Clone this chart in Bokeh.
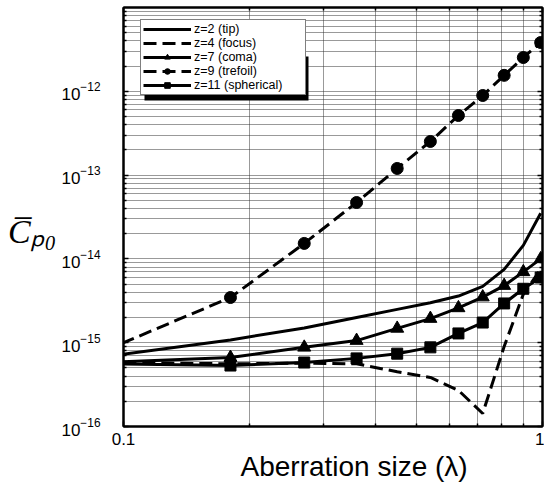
from bokeh.plotting import figure
from bokeh.models import (FixedTicker, LogAxis, Legend, LegendItem, Title,
                          CustomJSTickFormatter, BoxAnnotation, LogTickFormatter)
from bokeh.embed import file_html
from bokeh.resources import INLINE

# ---------------- data ----------------
aberration = [0.09, 0.18, 0.27, 0.36, 0.45, 0.54, 0.63, 0.72, 0.81, 0.90, 0.99]
tip       = [6.8e-16, 1.08e-15, 1.5e-15, 2.0e-15, 2.5e-15, 3.0e-15, 3.6e-15, 4.7e-15, 7.5e-15, 1.45e-14, 3.5e-14]
focus     = [5.8e-16, 5.6e-16, 5.7e-16, 5.6e-16, 4.5e-16, 3.85e-16, 2.7e-16, 1.43e-16, 9.0e-16, 3.8e-15, 7.5e-15]
coma      = [5.8e-16, 6.65e-16, 8.8e-16, 1.06e-15, 1.48e-15, 1.94e-15, 2.6e-15, 3.5e-15, 4.8e-15, 7.0e-15, 1.0e-14]
trefoil   = [8.0e-16, 3.46e-15, 1.53e-14, 4.71e-14, 1.20e-13, 2.52e-13, 5.14e-13, 8.91e-13, 1.55e-12, 2.53e-12, 3.82e-12]
spherical = [5.6e-16, 5.34e-16, 5.8e-16, 6.5e-16, 7.4e-16, 8.8e-16, 1.29e-15, 1.74e-15, 2.94e-15, 4.4e-15, 6.0e-15]

labels = ["z=2 (tip)", "z=4 (focus)", "z=7 (coma)", "z=9 (trefoil)", "z=11 (spherical)"]

x_major = [0.1, 1.0]
x_minor = [0.2, 0.3, 0.4, 0.5, 0.6, 0.7, 0.8, 0.9]
y_major = [1e-16, 1e-15, 1e-14, 1e-13, 1e-12]
y_minor = [m * d for d in [1e-16, 1e-15, 1e-14, 1e-13, 1e-12] for m in range(2, 10)]

# ---------------- figure ----------------
p = figure(width=544, height=484, x_axis_type="log", y_axis_type="log",
           x_range=(0.1, 1.0), y_range=(1e-16, 1e-11),
           output_backend="svg", toolbar_location=None,
           min_border_left=123, min_border_right=2, min_border_top=7, min_border_bottom=58)
p.background_fill_color = "white"
p.border_fill_color = "white"
p.outline_line_color = "black"
p.outline_line_width = 2

xt = FixedTicker(ticks=x_major, minor_ticks=x_minor)
yt = FixedTicker(ticks=y_major, minor_ticks=y_minor)
p.xaxis.ticker = xt
p.yaxis.ticker = yt
p.xgrid.ticker = xt
p.ygrid.ticker = yt

for g in (p.xgrid, p.ygrid):
    g.grid_line_color = "#333333"
    g.grid_line_dash = "1 1"
    g.grid_line_width = 1
    g.minor_grid_line_color = "#333333"
    g.minor_grid_line_dash = "1 1"
    g.minor_grid_line_width = 1

def style_axis(ax):
    ax.axis_line_color = "black"
    ax.axis_line_width = 2
    ax.major_tick_in = 5
    ax.major_tick_out = 0
    ax.minor_tick_in = 3
    ax.minor_tick_out = 0
    ax.major_tick_line_width = 1.5
    ax.minor_tick_line_width = 1.5
    ax.major_tick_line_color = "black"
    ax.minor_tick_line_color = "black"

style_axis(p.xaxis[0])
style_axis(p.yaxis[0])

p.xaxis.formatter = CustomJSTickFormatter(code="return tick >= 1 ? '1' : '0.1';")
p.xaxis.major_label_text_font = "Liberation Sans"
p.xaxis.major_label_text_font_size = "17px"
p.xaxis.major_label_text_color = "black"
p.xaxis.major_label_standoff = 6

# x axis title (sits right of centre, as in the reference)
p.add_layout(Title(text="Aberration size (\u03bb)", align="left", offset=117,
                   text_font="Liberation Sans", text_font_size="28px",
                   text_font_style="normal", text_color="black", standoff=2), "below")

p.yaxis.formatter = LogTickFormatter()
p.yaxis.major_label_text_font = "Liberation Sans"
p.yaxis.major_label_text_font_size = "17px"
p.yaxis.major_label_text_color = "black"
p.yaxis.major_label_standoff = 23
p.yaxis.axis_label = "\nC\u0305\u209a\u2080"
p.yaxis.axis_label_orientation = "horizontal"
p.yaxis.axis_label_text_font = "Liberation Serif"
p.yaxis.axis_label_text_font_style = "italic"
p.yaxis.axis_label_text_font_size = "34px"
p.yaxis.axis_label_text_line_height = 0.8
p.yaxis.axis_label_text_color = "black"
p.yaxis.axis_label_standoff = 2

# mirrored ticks on right / top
for loc in ("right", "above"):
    ax = LogAxis(ticker=(yt if loc == "right" else xt))
    ax.major_label_text_font_size = "2px"
    ax.major_label_text_alpha = 0
    ax.major_label_standoff = 0
    style_axis(ax)
    p.add_layout(ax, loc)

# ---------------- series ----------------
lw = 3
r_tip = p.line(aberration, tip, line_color="black", line_width=lw)
r_focus = p.line(aberration, focus, line_color="black", line_width=lw, line_dash="13 6")
r_coma_l = p.line(aberration, coma, line_color="black", line_width=lw)
r_coma_m = p.scatter(aberration, coma, marker="triangle", size=13, color="black")
r_tref_l = p.line(aberration, trefoil, line_color="black", line_width=lw, line_dash="13 6")
r_tref_m = p.scatter(aberration, trefoil, marker="circle", size=12, color="black")
r_sph_l = p.line(aberration, spherical, line_color="black", line_width=lw)
r_sph_m = p.scatter(aberration, spherical, marker="square", size=11, color="black")

# ---------------- legend ----------------
shadow = BoxAnnotation(left=21, right=185, bottom=326, top=370,
                       left_units="screen", right_units="screen",
                       bottom_units="screen", top_units="screen",
                       fill_color="black", fill_alpha=1, line_color=None, level="annotation")
p.add_layout(shadow)

legend = Legend(items=[
    LegendItem(label=labels[0], renderers=[r_tip]),
    LegendItem(label=labels[1], renderers=[r_focus]),
    LegendItem(label=labels[2], renderers=[r_coma_l, r_coma_m]),
    LegendItem(label=labels[3], renderers=[r_tref_l, r_tref_m]),
    LegendItem(label=labels[4], renderers=[r_sph_l, r_sph_m]),
], location=(17, 331))
legend.border_line_color = "black"
legend.border_line_width = 1.5
legend.background_fill_color = "white"
legend.background_fill_alpha = 1
legend.label_text_font = "Liberation Sans"
legend.label_text_font_size = "12.5px"
legend.label_text_color = "black"
legend.glyph_width = 48
legend.glyph_height = 14
legend.label_height = 14
legend.label_width = 109
legend.label_standoff = 3
legend.spacing = 0
legend.padding = 2
legend.margin = 0
p.add_layout(legend, "center")

open("out.html", "w").write(file_html(p, INLINE))
